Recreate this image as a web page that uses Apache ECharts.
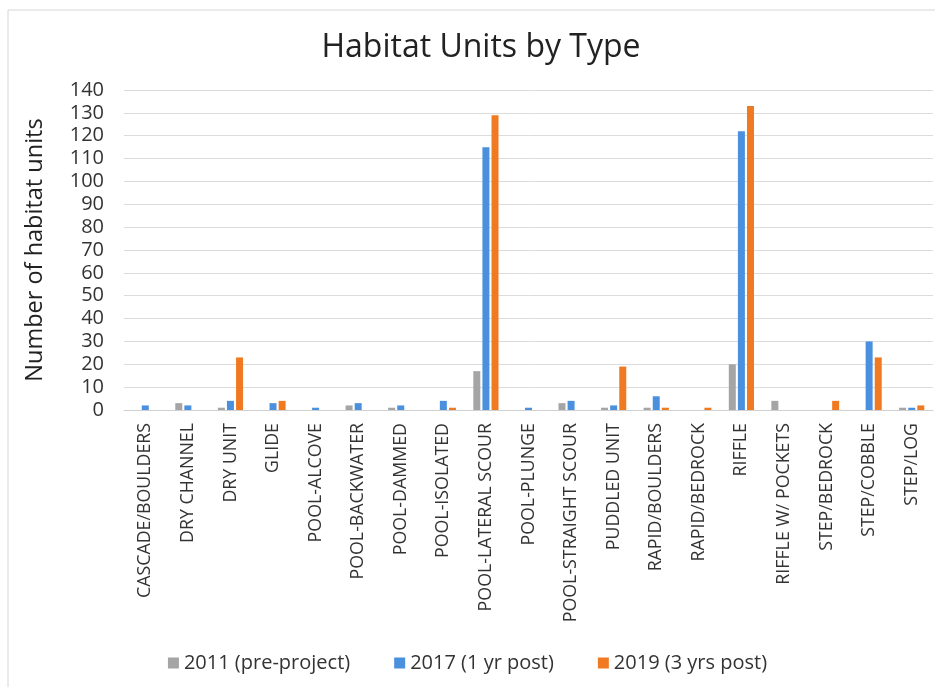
<!DOCTYPE html>
<html>
<head>
<meta charset="utf-8">
<script src="https://cdn.jsdelivr.net/npm/echarts@6/dist/echarts.min.js"></script>
<style>
html,body{margin:0;padding:0;background:#fff;}
#chart{width:935px;height:687px;}
</style>
</head>
<body>
<div id="chart"></div>
<script>
const categories = ["CASCADE/BOULDERS","DRY CHANNEL","DRY UNIT","GLIDE","POOL-ALCOVE","POOL-BACKWATER","POOL-DAMMED","POOL-ISOLATED","POOL-LATERAL SCOUR","POOL-PLUNGE","POOL-STRAIGHT SCOUR","PUDDLED UNIT","RAPID/BOULDERS","RAPID/BEDROCK","RIFFLE","RIFFLE W/ POCKETS","STEP/BEDROCK","STEP/COBBLE","STEP/LOG"];
const values2011 = [0, 3, 1, 0, 0, 2, 1, 0, 17, 0, 3, 1, 1, 0, 20, 4, 0, 0, 1];
const values2017 = [2, 2, 4, 3, 1, 3, 2, 4, 115, 1, 4, 2, 6, 0, 122, 0, 0, 30, 1];
const values2019 = [0, 0, 23, 4, 0, 0, 0, 1, 129, 0, 0, 19, 1, 1, 133, 0, 4, 23, 2];
const seriesNames = ["2011 (pre-project)", "2017 (1 yr post)", "2019 (3 yrs post)"];
const colors = ["#A5A5A5", "#4A90DE", "#F07A22"];

const FONT = "Open Sans";
const chart = echarts.init(document.getElementById('chart'), null, {renderer: 'canvas'});
chart.setOption({
  backgroundColor: '#fff',
  animation: false,
  color: colors,
  title: {
    text: 'Habitat Units by Type',
    left: 476, top: 27, textAlign: 'center',
    textStyle: {fontFamily: FONT, fontSize: 32, fontWeight: 'normal', color: '#222'}
  },
  graphic: [{
    type: 'rect', shape: {x: 8, y: 10, width: 940, height: 700},
    style: {fill: 'none', stroke: '#d6d6d6', lineWidth: 1}, silent: true
  }],
  legend: {
    top: 648, left: 'center', itemGap: 44,
    itemWidth: 11, itemHeight: 11, icon: 'rect',
    textStyle: {fontFamily: FONT, fontSize: 20, color: '#333'}
  },
  grid: {left: 124, right: 2, top: 90, bottom: 277},
  xAxis: {
    type: 'category', data: categories,
    axisTick: {show: false},
    axisLine: {lineStyle: {color: '#d0d0d0'}},
    axisLabel: {rotate: 90, interval: 0, fontFamily: FONT, fontSize: 17.8, color: '#333', margin: 13}
  },
  yAxis: {
    type: 'value', min: 0, max: 140, interval: 10,
    name: 'Number of habitat units', nameLocation: 'middle', nameGap: 77,
    nameTextStyle: {fontFamily: FONT, fontSize: 23.5, color: '#222'},
    axisLabel: {fontFamily: FONT, fontSize: 20, color: '#333', margin: 20},
    splitLine: {lineStyle: {color: '#dcdcdc'}},
    axisLine: {show: false}, axisTick: {show: false}
  },
  series: [
    {name: seriesNames[0], type: 'bar', data: values2011, barWidth: 7, barGap: '30%'},
    {name: seriesNames[1], type: 'bar', data: values2017, barWidth: 7, barGap: '30%'},
    {name: seriesNames[2], type: 'bar', data: values2019, barWidth: 7, barGap: '30%'}
  ]
});
</script>
</body>
</html>
